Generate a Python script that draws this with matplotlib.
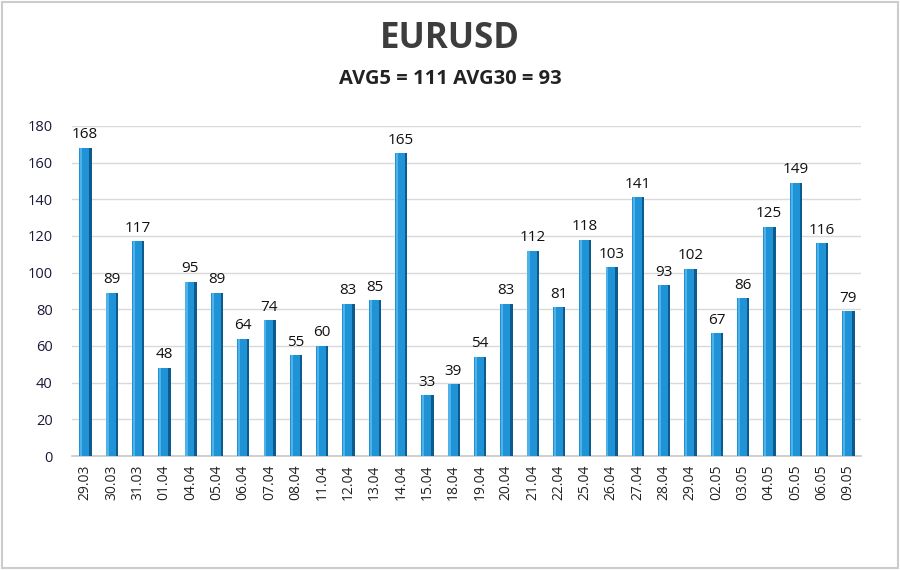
import matplotlib.pyplot as plt
import numpy as np

dates = ['29.03', '30.03', '31.03', '01.04', '04.04', '05.04', '06.04', '07.04',
         '08.04', '11.04', '12.04', '13.04', '14.04', '15.04', '18.04', '19.04',
         '20.04', '21.04', '22.04', '25.04', '26.04', '27.04', '28.04', '29.04',
         '02.05', '03.05', '04.05', '05.05', '06.05', '09.05']
values = [168, 89, 117, 48, 95, 89, 64, 74, 55, 60, 83, 85, 165, 33, 39, 54,
          83, 112, 81, 118, 103, 141, 93, 102, 67, 86, 125, 149, 116, 79]
yticks = [0, 20, 40, 60, 80, 100, 120, 140, 160, 180]

plt.rcParams['font.family'] = ['Open Sans', 'DejaVu Sans']

fig = plt.figure(figsize=(9, 5.7), dpi=100)
ax = fig.add_axes([0.08, 0.2, 0.877, 0.579])

x = np.arange(len(values))
# front face + darker side face for a flat 3D look
ax.bar(x - 0.03, values, width=0.38, color='#1f93d6', zorder=3)
ax.bar(x + 0.2, values, width=0.09, color='#0d5a8e', zorder=3)
ax.bar(x - 0.15, values, width=0.08, color='#4fb3ea', zorder=3)

for xi, v in zip(x, values):
    ax.text(xi, v + 3, str(v), ha='center', va='bottom', fontsize=11, color='#111111')

ax.set_xlim(-0.5, len(values) - 0.5)
ax.set_ylim(0, 180)
ax.set_yticks(yticks)
ax.set_xticks(x)
ax.set_xticklabels(dates, rotation=90, fontsize=10, color='#222222')
ax.tick_params(axis='y', labelsize=10.5, colors='#1a1a3a', length=0, pad=14)
ax.tick_params(axis='x', length=0, pad=6)
ax.grid(axis='y', color='#d9d9d9', linewidth=1, zorder=0)
for s in ['top', 'right', 'left']:
    ax.spines[s].set_visible(False)
ax.spines['bottom'].set_color('#c8c8c8')
ax.spines['bottom'].set_linewidth(1.2)

fig.text(0.5, 0.932, 'EURUSD', ha='center', va='center', fontsize=25,
         fontweight='bold', color='#3d3d3d')
fig.text(0.5, 0.862, 'AVG5 = 111 AVG30 = 93', ha='center', va='center', fontsize=14.5,
         fontweight='bold', color='#222222')

fig.patches.append(plt.Rectangle((0.002, 0.003), 0.996, 0.994, transform=fig.transFigure,
                                 fill=False, edgecolor='#cccccc', linewidth=1.5))

fig.savefig('out.png', dpi=100)
